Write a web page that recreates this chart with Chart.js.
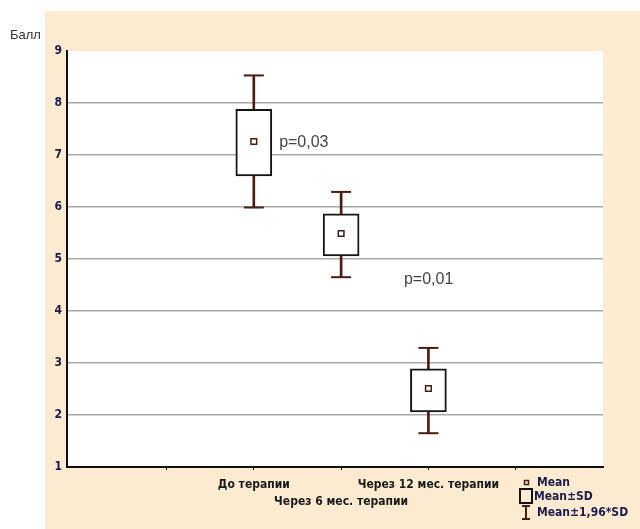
<!DOCTYPE html>
<html>
<head>
<meta charset="utf-8">
<script src="https://cdn.jsdelivr.net/npm/chart.js@4/dist/chart.umd.min.js"></script>
<style>
  html, body { margin: 0; padding: 0; background: #fff; }
  canvas { display: block; }
</style>
</head>
<body>
<canvas id="chart" width="640" height="529"></canvas>
<script>
// groups along x (tick positions 2, 3, 4)
const groups = ['До терапии', 'Через 6 мес. терапии', 'Через 12 мес. терапии'];
const groupX = [2, 3, 4];
const means = [7.26, 5.49, 2.51];
const sdLow = [6.6, 5.06, 2.06];
const sdHigh = [7.88, 5.87, 2.89];
const ciLow = [5.99, 4.65, 1.65];
const ciHigh = [8.53, 6.29, 3.29];
const yTicks = [1, 2, 3, 4, 5, 6, 7, 8, 9];
const pTexts = ['p=0,03', 'p=0,01'];
const pAt = [[2.29, 7.23], [3.72, 4.6]];   // data coords of p labels
const legendItems = ['Mean', 'Mean±SD', 'Mean±1,96*SD'];

const brown = '#4a1c16';
const bold = "'Liberation Sans Narrow', 'DejaVu Sans Condensed', sans-serif";

const stems = groupX.map((x, i) => ({ x: x, y: [ciLow[i], ciHigh[i]] }));
const boxes = groupX.map((x, i) => ({ x: x, y: [sdLow[i], sdHigh[i]] }));
const caps = [];
groupX.forEach((x, i) => { caps.push({ x: x, y: ciLow[i] }); caps.push({ x: x, y: ciHigh[i] }); });
const meanPts = groupX.map((x, i) => ({ x: x, y: means[i] }));

const bgPlugin = {
  id: 'bg',
  beforeDraw(chart) {
    const c = chart.ctx, a = chart.chartArea;
    c.save();
    c.fillStyle = '#fff';
    c.fillRect(0, 0, chart.width, chart.height);
    c.fillStyle = '#fcebd0';
    c.fillRect(45, 11, chart.width - 45, chart.height - 11);
    c.fillStyle = '#fff';
    c.fillRect(a.left, a.top, a.right - a.left, a.bottom - a.top);
    c.restore();
  },
  afterDraw(chart) {
    const c = chart.ctx;
    const xs = chart.scales.x, ys = chart.scales.y;
    c.save();
    // y axis title
    c.fillStyle = '#333';
    c.font = "13px 'Liberation Sans', Arial, sans-serif";
    c.textBaseline = 'middle';
    c.fillText('Балл', 10, 35);
    // p labels
    c.fillStyle = '#444';
    c.font = "16px 'Liberation Sans', Arial, sans-serif";
    pTexts.forEach((t, i) => {
      c.fillText(t, xs.getPixelForValue(pAt[i][0]), ys.getPixelForValue(pAt[i][1]));
    });
    // legend
    c.font = 'bold 12px ' + bold;
    c.fillStyle = '#1b1b4a';
    c.strokeStyle = brown;
    c.lineWidth = 1.5;
    c.fillText(legendItems[0], 537, 483);
    c.strokeRect(524.5, 480.5, 4, 4);
    c.fillText(legendItems[1], 534, 497);
    c.strokeStyle = '#111';
    c.lineWidth = 2;
    c.strokeRect(520, 489, 12, 14);
    c.fillText(legendItems[2], 537, 513);
    c.strokeStyle = brown;
    c.beginPath();
    c.moveTo(522, 506); c.lineTo(530, 506);
    c.moveTo(526, 506); c.lineTo(526, 519);
    c.moveTo(522, 519); c.lineTo(530, 519);
    c.stroke();
    c.restore();
  }
};

new Chart(document.getElementById('chart'), {
  type: 'bar',
  data: {
    datasets: [
      { type: 'bar', data: stems, backgroundColor: brown, borderWidth: 0,
        barThickness: 2, grouped: false, order: 3 },
      { type: 'bar', data: boxes, backgroundColor: '#fff', borderColor: '#151515',
        borderWidth: 2, borderSkipped: false, barThickness: 36, grouped: false, order: 2 },
      { type: 'line', data: caps, showLine: false, pointStyle: 'line', pointRadius: 10,
        pointBorderWidth: 2, pointBorderColor: brown, order: 1 },
      { type: 'line', data: meanPts, showLine: false, pointStyle: 'rect', pointRadius: 4,
        pointBorderWidth: 1.5, pointBorderColor: brown, pointBackgroundColor: '#fff', order: 0 }
    ]
  },
  options: {
    responsive: false,
    devicePixelRatio: 1,
    animation: false,
    events: [],
    layout: { padding: { left: 0, top: 51, right: 37, bottom: 0 } },
    plugins: { legend: { display: false }, tooltip: { enabled: false } },
    scales: {
      x: {
        type: 'linear',
        offset: false,
        min: -0.14,
        max: 6,
        afterFit(scale) { scale.height = 62; },
        afterBuildTicks(scale) { scale.ticks = [1, 2, 3, 4, 5].map(v => ({ value: v })); },
        border: { display: true, color: '#111', width: 2 },
        grid: { offset: false, drawOnChartArea: false, drawTicks: true, tickLength: 3, color: '#111', lineWidth: 1 },
        ticks: {
          autoSkip: false,
          maxRotation: 0,
          padding: 6,
          color: '#1a1a1a',
          font: { family: bold, size: 12, weight: 'bold', lineHeight: 1.45 },
          callback(v) {
            const i = groupX.indexOf(v);
            if (i < 0) return '';
            return i === 1 ? ['', groups[i]] : groups[i];
          }
        }
      },
      y: {
        min: 1,
        max: 9,
        afterFit(scale) { scale.width = 67; },
        afterBuildTicks(scale) { scale.ticks = yTicks.map(v => ({ value: v })); },
        border: { display: true, color: '#111', width: 2 },
        grid: {
          drawTicks: false,
          lineWidth: 1.5,
          color: c => (c.tick && (c.tick.value === 1 || c.tick.value === 9)) ? 'rgba(0,0,0,0)' : '#a9a9a9'
        },
        ticks: {
          padding: 5,
          color: '#1b1b4a',
          font: { family: bold, size: 12, weight: 'bold' }
        }
      }
    }
  },
  plugins: [bgPlugin]
});
</script>
</body>
</html>
